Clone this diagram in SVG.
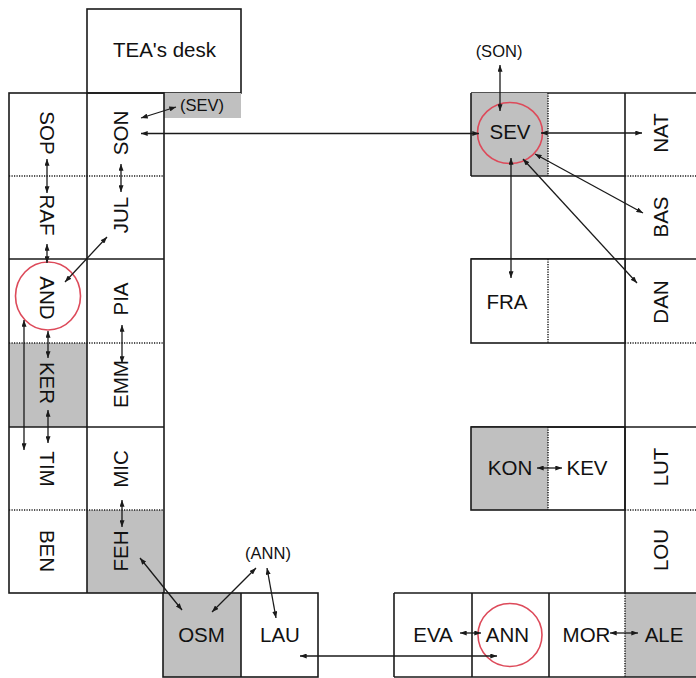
<svg xmlns="http://www.w3.org/2000/svg" width="696" height="678" viewBox="0 0 696 678">
<style>
.bg{fill:#fff}
.cell{fill:#fff;stroke:#1a1a1a;stroke-width:1.6}
.gray{fill:#c0c0c0;stroke:none}
.solid{stroke:#1a1a1a;stroke-width:1.6;fill:none}
.dot{stroke:#1a1a1a;stroke-width:1.5;stroke-dasharray:1.2 1.3;fill:none}
.t{font-family:"Liberation Sans",Arial,sans-serif;font-size:20.5px;fill:#111;text-anchor:middle}
.s{font-family:"Liberation Sans",Arial,sans-serif;font-size:16.5px;fill:#111;text-anchor:middle}
.ring{fill:none;stroke:#dd4a5a;stroke-width:1.6}
.ar{stroke:#1a1a1a;stroke-width:1.3;fill:none;marker-start:url(#ah);marker-end:url(#ah)}
</style>
<defs>
<marker id="ah" viewBox="0 0 8 6" refX="8" refY="3" markerWidth="7" markerHeight="5" orient="auto-start-reverse" markerUnits="userSpaceOnUse"><path d="M0,0 L8,3 L0,6 z" fill="#1a1a1a"/></marker>
</defs>
<rect class="bg" x="0" y="0" width="696" height="678"/>

<!-- Teacher desk -->
<g id="tea-desk">
<rect class="cell" x="87" y="9" width="154" height="84"/>
<text class="t" x="164.5" y="57">TEA's desk</text>
</g>

<!-- Left block -->
<g id="left-block">
<rect class="gray" x="9" y="343" width="78" height="84"/>
<rect class="gray" x="87" y="510" width="77" height="83"/>
<rect class="gray" x="164" y="93" width="77" height="25"/>
<rect class="solid" x="9" y="93" width="155" height="500"/>
<line class="solid" x1="87" y1="93" x2="87" y2="593"/>
<line class="dot" x1="9" y1="176" x2="164" y2="176"/>
<line class="solid" x1="9" y1="259" x2="164" y2="259"/>
<line class="dot" x1="9" y1="343" x2="164" y2="343"/>
<line class="solid" x1="9" y1="427" x2="164" y2="427"/>
<line class="dot" x1="9" y1="510" x2="164" y2="510"/>
</g>
<g id="sev-label"><text class="s" x="202" y="111">(SEV)</text></g>
<g id="SOP"><text class="t" transform="translate(47,133) rotate(90)" x="0" y="7.3">SOP</text></g>
<g id="RAF"><text class="t" transform="translate(47,215) rotate(90)" x="0" y="7.3">RAF</text></g>
<g id="AND"><text class="t" transform="translate(47.5,298) rotate(90)" x="0" y="7.3">AND</text><ellipse class="ring" cx="48" cy="296" rx="32.5" ry="34"/></g>
<g id="KER"><text class="t" transform="translate(47.5,383) rotate(90)" x="0" y="7.3">KER</text></g>
<g id="TIM"><text class="t" transform="translate(47.5,469) rotate(90)" x="0" y="7.3">TIM</text></g>
<g id="BEN"><text class="t" transform="translate(47.5,551) rotate(90)" x="0" y="7.3">BEN</text></g>
<g id="SON"><text class="t" transform="translate(121,133) rotate(-90)" x="0" y="7.3">SON</text></g>
<g id="JUL"><text class="t" transform="translate(121,215) rotate(-90)" x="0" y="7.3">JUL</text></g>
<g id="PIA"><text class="t" transform="translate(121,299) rotate(-90)" x="0" y="7.3">PIA</text></g>
<g id="EMM"><text class="t" transform="translate(121,384) rotate(-90)" x="0" y="7.3">EMM</text></g>
<g id="MIC"><text class="t" transform="translate(121,469) rotate(-90)" x="0" y="7.3">MIC</text></g>
<g id="FEH"><text class="t" transform="translate(121,551) rotate(-90)" x="0" y="7.3">FEH</text></g>

<!-- Bottom left pair -->
<g id="OSM-LAU">
<rect class="gray" x="163" y="593" width="78" height="84"/>
<rect class="solid" x="163" y="593" width="155" height="84"/>
<line class="solid" x1="241" y1="593" x2="241" y2="677"/>
</g>
<g id="OSM"><text class="t" x="201.5" y="642">OSM</text></g>
<g id="LAU"><text class="t" x="280" y="642">LAU</text></g>
<g id="ann-label"><text class="s" x="268" y="559">(ANN)</text></g>

<!-- Right column -->
<g id="right-column">
<line class="solid" x1="625" y1="93" x2="625" y2="593"/>
<line class="solid" x1="471" y1="93" x2="696" y2="93"/>
<line class="dot" x1="625" y1="176" x2="696" y2="176"/>
<line class="solid" x1="471" y1="259" x2="696" y2="259"/>
<line class="dot" x1="625" y1="343" x2="696" y2="343"/>
<line class="solid" x1="471" y1="427" x2="696" y2="427"/>
<line class="dot" x1="625" y1="510" x2="696" y2="510"/>
</g>
<g id="NAT"><text class="t" transform="translate(661,133) rotate(-90)" x="0" y="7.3">NAT</text></g>
<g id="BAS"><text class="t" transform="translate(661,217) rotate(-90)" x="0" y="7.3">BAS</text></g>
<g id="DAN"><text class="t" transform="translate(661,302) rotate(-90)" x="0" y="7.3">DAN</text></g>
<g id="LUT"><text class="t" transform="translate(661,467) rotate(-90)" x="0" y="7.3">LUT</text></g>
<g id="LOU"><text class="t" transform="translate(661,550) rotate(-90)" x="0" y="7.3">LOU</text></g>

<!-- SEV block -->
<g id="SEV-block">
<rect class="gray" x="471" y="93" width="77" height="83"/>
<line class="solid" x1="471" y1="93" x2="471" y2="176"/>
<line class="solid" x1="471" y1="176" x2="625" y2="176"/>
<line class="dot" x1="548" y1="93" x2="548" y2="176"/>
</g>
<g id="SEV"><text class="t" x="510" y="139">SEV</text><ellipse class="ring" cx="510" cy="133" rx="32.5" ry="30.5"/></g>
<g id="son-label"><text class="s" x="499" y="57">(SON)</text></g>

<!-- FRA block -->
<g id="FRA-block">
<rect class="cell" x="471" y="259" width="154" height="84"/>
<line class="dot" x1="548" y1="259" x2="548" y2="343"/>
</g>
<g id="FRA"><text class="t" x="507" y="309">FRA</text></g>

<!-- KON block -->
<g id="KON-block">
<rect class="gray" x="471" y="427" width="77" height="83"/>
<rect class="solid" x="471" y="427" width="154" height="83"/>
<line class="dot" x1="548" y1="427" x2="548" y2="510"/>
</g>
<g id="KON"><text class="t" x="510" y="475">KON</text></g>
<g id="KEV"><text class="t" x="587" y="475">KEV</text></g>

<!-- Bottom right row -->
<g id="bottom-row">
<rect class="gray" x="625" y="593" width="71" height="84"/>
<line class="solid" x1="394" y1="593" x2="696" y2="593"/>
<line class="solid" x1="394" y1="677" x2="696" y2="677"/>
<line class="solid" x1="394" y1="593" x2="394" y2="677"/>
<line class="solid" x1="472" y1="593" x2="472" y2="677"/>
<line class="solid" x1="549" y1="593" x2="549" y2="677"/>
<line class="dot" x1="625" y1="593" x2="625" y2="677"/>
</g>
<g id="EVA"><text class="t" x="433" y="642">EVA</text></g>
<g id="ANN"><text class="t" x="507.5" y="642">ANN</text><ellipse class="ring" cx="510" cy="635" rx="32" ry="31.5"/></g>
<g id="MOR"><text class="t" x="586.5" y="642">MOR</text></g>
<g id="ALE"><text class="t" x="664" y="642">ALE</text></g>

<!-- Connectors -->
<g id="connectors">
<line class="ar" x1="141" y1="118" x2="176" y2="107"/>
<line class="ar" x1="141" y1="133.5" x2="479" y2="133.5"/>
<line class="ar" x1="500" y1="65" x2="500" y2="111"/>
<line class="ar" x1="541" y1="133" x2="642" y2="133"/>
<line class="ar" x1="535" y1="154" x2="643" y2="213"/>
<line class="ar" x1="523" y1="159" x2="637" y2="283"/>
<line class="ar" x1="511" y1="158" x2="511" y2="278"/>
<line class="ar" x1="47" y1="159" x2="47" y2="193"/>
<line class="ar" x1="121" y1="164" x2="121" y2="192"/>
<line class="ar" x1="47" y1="244" x2="47" y2="263"/>
<line class="ar" x1="65" y1="282" x2="107" y2="237"/>
<line class="ar" x1="48" y1="331" x2="48" y2="358"/>
<line class="ar" x1="48" y1="410" x2="48" y2="443"/>
<line class="ar" x1="24" y1="320" x2="24" y2="450"/>
<line class="ar" x1="122" y1="325" x2="122" y2="363"/>
<line class="ar" x1="122" y1="500" x2="122" y2="527"/>
<line class="ar" x1="140" y1="558" x2="182" y2="610"/>
<line class="ar" x1="212" y1="612" x2="256" y2="568"/>
<line class="ar" x1="267" y1="568" x2="276" y2="618"/>
<line class="ar" x1="300" y1="656" x2="497" y2="656"/>
<line class="ar" x1="460" y1="633" x2="481" y2="633"/>
<line class="ar" x1="610" y1="633" x2="638" y2="633"/>
<line class="ar" x1="537" y1="468" x2="562" y2="468"/>
</g>
</svg>
